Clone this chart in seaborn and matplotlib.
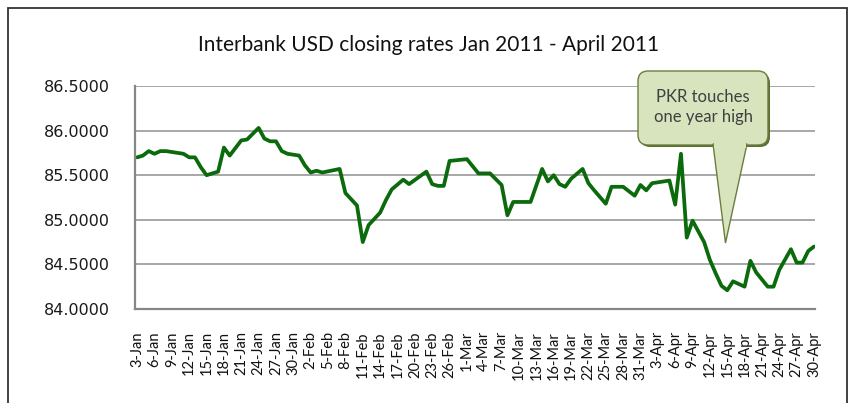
import matplotlib
matplotlib.use("Agg")
import matplotlib.pyplot as plt
import matplotlib.patches as mpatches
import matplotlib.transforms as mtransforms
import seaborn as sns
import pandas as pd

# Interbank USD closing rates (PKR)
dates = [
    "2011-01-03", "2011-01-04", "2011-01-05", "2011-01-06", "2011-01-07", "2011-01-08",
    "2011-01-10", "2011-01-11", "2011-01-12", "2011-01-13", "2011-01-14", "2011-01-15",
    "2011-01-17", "2011-01-18", "2011-01-19", "2011-01-21", "2011-01-22", "2011-01-24",
    "2011-01-25", "2011-01-26", "2011-01-27", "2011-01-28", "2011-01-29", "2011-01-31",
    "2011-02-01", "2011-02-02", "2011-02-03", "2011-02-04", "2011-02-07", "2011-02-08",
    "2011-02-10", "2011-02-11", "2011-02-12", "2011-02-14", "2011-02-15", "2011-02-16",
    "2011-02-18", "2011-02-19", "2011-02-22", "2011-02-23", "2011-02-24", "2011-02-25",
    "2011-02-26", "2011-03-01", "2011-03-03", "2011-03-05", "2011-03-07", "2011-03-08",
    "2011-03-09", "2011-03-12", "2011-03-14", "2011-03-15", "2011-03-16", "2011-03-17",
    "2011-03-18", "2011-03-19", "2011-03-21", "2011-03-22", "2011-03-23", "2011-03-25",
    "2011-03-26", "2011-03-28", "2011-03-30", "2011-03-31", "2011-04-01", "2011-04-02",
    "2011-04-05", "2011-04-06", "2011-04-07", "2011-04-08", "2011-04-09", "2011-04-11",
    "2011-04-12", "2011-04-13", "2011-04-14", "2011-04-15", "2011-04-16", "2011-04-18",
    "2011-04-19", "2011-04-20", "2011-04-21", "2011-04-22", "2011-04-23", "2011-04-24",
    "2011-04-26", "2011-04-27", "2011-04-28", "2011-04-29", "2011-04-30",
]
rates = [
    85.70, 85.72, 85.77, 85.74, 85.77, 85.77,
    85.75, 85.74, 85.70, 85.70, 85.59, 85.50,
    85.54, 85.81, 85.72, 85.89, 85.90, 86.03,
    85.91, 85.88, 85.88, 85.77, 85.74, 85.72,
    85.61, 85.53, 85.55, 85.53, 85.57, 85.30,
    85.16, 84.75, 84.94, 85.08, 85.22, 85.34,
    85.45, 85.40, 85.54, 85.40, 85.38, 85.38,
    85.66, 85.68, 85.52, 85.52, 85.39, 85.05,
    85.20, 85.20, 85.57, 85.43, 85.50, 85.40,
    85.37, 85.46, 85.57, 85.41, 85.33, 85.18,
    85.37, 85.37, 85.27, 85.39, 85.33, 85.41,
    85.44, 85.17, 85.74, 84.80, 84.99, 84.75,
    84.55, 84.40, 84.26, 84.21, 84.31, 84.25,
    84.54, 84.41, 84.33, 84.25, 84.25, 84.44,
    84.67, 84.52, 84.52, 84.65, 84.70,
]
y_ticks = [84.0, 84.5, 85.0, 85.5, 86.0, 86.5]
title = "Interbank USD closing rates Jan 2011 - April 2011"
callout = "PKR touches\none year high"

df = pd.DataFrame({"date": pd.to_datetime(dates), "rate": rates})
label_dates = pd.date_range("2011-01-03", "2011-04-30", freq="3D")

sns.set_style("white")

fig = plt.figure(figsize=(8.51, 4.03), dpi=100)
ax = fig.add_axes([0.1586, 0.2333, 0.7991, 0.5533])

sns.lineplot(data=df, x="date", y="rate", ax=ax, color="#0b6a0b", linewidth=2.7)

ax.set_ylim(84.0, 86.5)
ax.set_xlim(pd.Timestamp("2011-01-03") - pd.Timedelta(hours=9),
            pd.Timestamp("2011-04-30") + pd.Timedelta(hours=4))
ax.set_yticks(y_ticks)
ax.set_yticklabels([f"{v:.4f}" for v in y_ticks], fontsize=11.5,
                   family="DejaVu Sans", color="#1a1a1a")
ax.set_xticks(label_dates)
ax.set_xticklabels([f"{d.day}-{d:%b}" for d in label_dates], rotation=90,
                   fontsize=10.5, family="Lato", color="#111111")
for lbl in ax.get_xticklabels():
    lbl.set_transform(lbl.get_transform() +
                      mtransforms.ScaledTranslation(6 / 100, 0, fig.dpi_scale_trans))
ax.set_xlabel("")
ax.set_ylabel("")

ax.yaxis.grid(True, color="#a0a0a0", linewidth=1.3)
ax.xaxis.grid(False)
ax.set_axisbelow(True)
for side in ["top", "right"]:
    ax.spines[side].set_visible(False)
for side in ["left", "bottom"]:
    ax.spines[side].set_color("#868686")
    ax.spines[side].set_linewidth(1.6)
ax.tick_params(axis="y", direction="out", length=5, width=1.2, color="#868686", pad=13)
ax.tick_params(axis="x", direction="out", length=4, width=1.2, color="#868686", pad=12)

fig.text(0.504, 0.888, title, ha="center", va="center", fontsize=15,
         family="Lato", color="#111111")

# callout box with pointer (pixel coordinates)
ident = mtransforms.IdentityTransform()
shadow = mpatches.FancyBboxPatch((640, 256), 130, 74,
                                 boxstyle="round,pad=0,rounding_size=10",
                                 facecolor="#5c6e32", edgecolor="none",
                                 transform=ident)
box = mpatches.FancyBboxPatch((638, 258), 130, 74,
                              boxstyle="round,pad=0,rounding_size=10",
                              facecolor="#d7e4bd", edgecolor="#6b7d3e",
                              linewidth=1.0, transform=ident)
wedge = mpatches.Polygon([(713, 259), (747, 259), (725.5, 160)], closed=True,
                         facecolor="#d7e4bd", edgecolor="#6b7d3e",
                         linewidth=1.0, transform=ident)
patch = mpatches.Rectangle((714, 255), 32, 6, facecolor="#d7e4bd",
                           edgecolor="none", transform=ident)
for p in [shadow, box, wedge, patch]:
    fig.add_artist(p)
fig.text(703 / 851, 296 / 403, callout, ha="center", va="center",
         fontsize=12, family="Lato", color="#404040", linespacing=1.35)

# chart border
frame = mpatches.Rectangle((8, -10), 839, 405, fill=False, edgecolor="#333333",
                           linewidth=1.3, transform=ident)
fig.add_artist(frame)

fig.savefig("out.png", dpi=100)
